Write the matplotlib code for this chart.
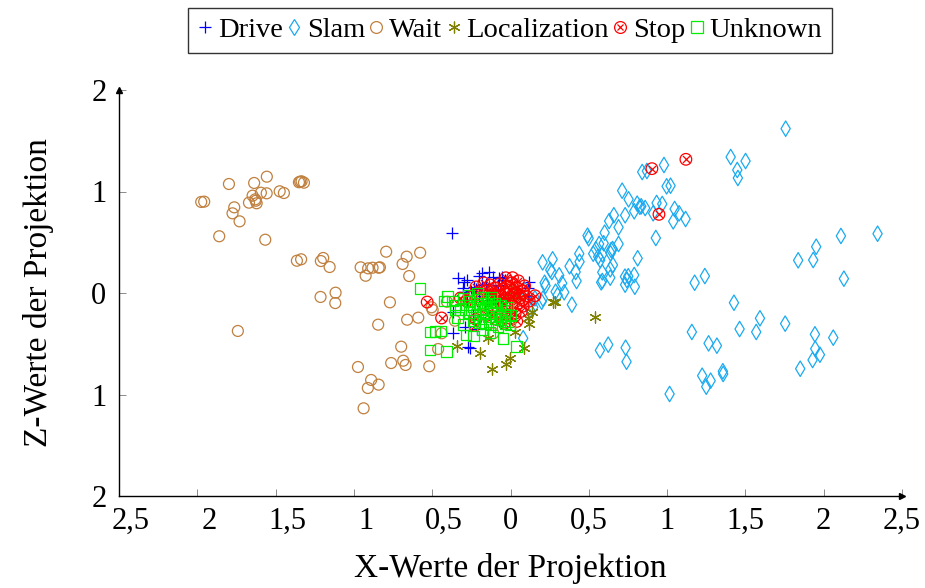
import matplotlib
matplotlib.use("Agg")
import matplotlib.pyplot as plt
from matplotlib.lines import Line2D
from matplotlib.legend_handler import HandlerTuple
from matplotlib.transforms import ScaledTranslation

# ---------------- data ----------------
drive_x = [-0.376, -0.338, -0.280, -0.185, -0.136, -0.200, -0.298, -0.306, -0.234, -0.221,
           -0.185, -0.157, -0.110, -0.072, -0.036, 0.116, -0.057, -0.302, -0.280, -0.366,
           -0.291, -0.370, -0.270, -0.216, -0.259, -0.25, -0.20, -0.15, -0.10, -0.08,
           -0.05, -0.12, 0.11, -0.24, -0.08, 0.11]
drive_y = [0.594, 0.151, 0.128, 0.194, 0.204, 0.170, 0.105, 0.046, 0.062, 0.039,
           0.079, 0.086, 0.161, 0.145, 0.128, 0.111, 0.161, 0.013, -0.069, -0.184,
           -0.332, -0.391, -0.529, -0.358, -0.545, 0.02, -0.03, 0.03, 0.02, 0.08,
           -0.05, -0.10, -0.03, -0.22, 0.07, 0.05]

slam_x = [1.757, 1.406, 1.501, 1.448, 1.452, 0.980, 0.841, 0.871, 0.997, 1.022,
          0.713, 0.754, 0.809, 0.826, 0.860, 0.835, 0.933, 0.969, 1.048, 1.077,
          1.118, 1.039, 0.911, 0.732, 0.790, 0.660, 0.630, 0.690, 0.928, 0.601,
          0.492, 0.499, 0.690, 0.566, 0.595, 0.545, 0.528, 0.560, 0.573, 0.586,
          0.643, 0.652, 0.639, 0.439, 0.441, 0.812, 0.269, 0.205, 0.377, 0.416,
          0.422, 0.654, 0.637, 0.586, 0.586, 0.579, 0.637, 0.254, 0.264, 0.311,
          0.330, 0.343, 0.288, 0.218, 0.224, 0.731, 0.752, 0.790, 0.732, 0.794,
          0.743, 0.392, 0.207, 1.176, 1.241, 1.427, 1.593, 1.463, 1.569, 1.754,
          1.158, 1.265, 1.318, 0.571, 0.624, 0.735, 0.741, 1.224, 1.250, 1.278,
          1.356, 1.358, 1.016, 1.837, 1.933, 1.952, 2.110, 2.344, 2.129, 1.944,
          2.061, 1.946, 1.976, 1.929, 1.850, 0.092, 0.156, 0.124, 0.081, 0.145,
          0.199, 0.301]
slam_y = [1.619, 1.340, 1.300, 1.212, 1.133, 1.261, 1.192, 1.202, 1.051, 1.057,
          1.008, 0.923, 0.880, 0.850, 0.837, 0.854, 0.887, 0.877, 0.828, 0.785,
          0.729, 0.706, 0.785, 0.766, 0.805, 0.766, 0.709, 0.647, 0.542, 0.594,
          0.565, 0.539, 0.483, 0.483, 0.490, 0.431, 0.387, 0.358, 0.325, 0.381,
          0.424, 0.433, 0.391, 0.387, 0.308, 0.342, 0.332, 0.302, 0.263, 0.207,
          0.118, 0.276, 0.233, 0.204, 0.118, 0.105, 0.151, 0.227, 0.207, 0.174,
          0.096, 0.007, 0.013, 0.101, 0.072, 0.161, 0.165, 0.177, 0.082, 0.062,
          0.128, -0.115, -0.056, 0.101, 0.167, -0.096, -0.249, -0.355, -0.384, -0.302,
          -0.384, -0.496, -0.519, -0.565, -0.509, -0.539, -0.677, -0.815, -0.923, -0.864,
          -0.771, -0.798, -0.995, 0.322, 0.325, 0.456, 0.562, 0.584, 0.141, -0.407,
          -0.440, -0.549, -0.608, -0.660, -0.746, 0.030, -0.052, -0.167, -0.446, -0.141,
          -0.086, -0.020]

wait_x = [-1.798, -1.637, -1.556, -1.343, -1.334, -1.319, -1.351, -1.975, -1.956, -1.764,
          -1.775, -1.730, -1.670, -1.647, -1.626, -1.621, -1.630, -1.594, -1.557, -1.474,
          -1.447, -1.860, -1.566, -1.364, -1.337, -1.211, -1.196, -1.155, -0.794, -0.957,
          -0.925, -0.909, -0.881, -0.842, -0.834, -1.213, -1.117, -1.119, -0.770, -0.845,
          -1.741, -0.762, -0.974, -0.890, -0.911, -0.842, -0.938, -0.663, -0.689, -0.577,
          -0.647, -0.660, -0.589, -0.497, -0.504, -0.698, -0.685, -0.670, -0.519, -0.462,
          -0.440, -0.406, -0.355, -0.110]
wait_y = [1.074, 1.084, 1.146, 1.097, 1.100, 1.087, 1.091, 0.897, 0.900, 0.844,
          0.785, 0.706, 0.890, 0.959, 0.909, 0.884, 0.923, 0.988, 0.982, 1.002,
          0.985, 0.559, 0.525, 0.318, 0.332, 0.315, 0.345, 0.256, 0.407, 0.253,
          0.170, 0.243, 0.249, 0.249, 0.253, -0.039, 0.003, -0.099, -0.092, -0.312,
          -0.374, -0.690, -0.729, -0.857, -0.936, -0.903, -1.136, 0.358, 0.286, 0.397,
          0.167, -0.263, -0.243, -0.167, -0.141, -0.529, -0.667, -0.709, -0.722, -0.552,
          -0.397, -0.086, -0.273, -0.397]

loc_x = [0.284, 0.541, -0.344, -0.195, -0.121, -0.031, -0.004, 0.086, 0.119, 0.273,
         -0.146, 0.034, 0.135, 0.060, -0.05, -0.12, 0.02, 0.112, 0.026, -0.004]
loc_y = [-0.089, -0.236, -0.522, -0.588, -0.752, -0.700, -0.637, -0.545, -0.308, -0.086,
         -0.440, -0.020, -0.184, -0.036, -0.05, 0.00, 0.05, -0.246, -0.381, -0.049]

stop_x = [0.903, 1.120, 0.948, -0.532, -0.440, -0.229, 0.013, 0.156,
          -0.03, 0.01, 0.05, -0.07, -0.10, -0.05, 0.00, 0.04, 0.08, 0.10,
          -0.15, -0.20, -0.12, -0.08, -0.03, 0.02, 0.06, -0.01, -0.06, -0.10,
          -0.14, -0.18, -0.04, 0.01, 0.05, 0.08, -0.08, -0.12, -0.02, 0.03,
          -0.06, -0.15, 0.00, -0.09, -0.22, 0.04, -0.04, -0.25, -0.22, -0.17,
          0.09, 0.12, 0.07, -0.28, -0.32, -0.02, -0.13, 0.03, -0.07]
stop_y = [1.225, 1.317, 0.775, -0.089, -0.246, -0.318, 0.151, -0.027,
          0.15, 0.10, 0.12, 0.09, 0.05, 0.04, 0.03, 0.05, 0.02, -0.03,
          0.02, 0.00, -0.02, -0.03, -0.01, -0.02, -0.05, -0.07, -0.08, -0.09,
          -0.06, -0.10, -0.12, -0.13, -0.10, -0.13, -0.15, -0.16, -0.18, -0.20,
          -0.21, -0.22, -0.25, -0.26, -0.26, -0.28, -0.30, -0.04, 0.06, 0.10,
          0.07, -0.08, -0.18, -0.08, -0.05, 0.06, 0.08, 0.00, -0.02]

unk_x = [-0.579, -0.425, -0.404, -0.515, -0.481, -0.446, -0.515, -0.408, -0.355, -0.285,
         -0.238, 0.039, -0.036, -0.004, -0.047,
         -0.30, -0.26, -0.22, -0.18, -0.14, -0.10, -0.06, -0.02, -0.28, -0.24,
         -0.20, -0.16, -0.12, -0.08, -0.04, 0.00, -0.26, -0.22, -0.18, -0.14,
         -0.10, -0.06, -0.02, -0.24, -0.20, -0.16, -0.12, -0.08, -0.32, -0.34,
         -0.18, -0.13, -0.30, -0.27, -0.15, -0.19, -0.11, -0.23, -0.07, -0.03,
         -0.37, -0.35, -0.21, -0.12]
unk_y = [0.046, -0.079, -0.036, -0.384, -0.377, -0.374, -0.562, -0.578, -0.167, -0.414,
         -0.424, -0.529, -0.299, -0.315, -0.446,
         -0.05, -0.08, -0.06, -0.04, -0.07, -0.10, -0.12, -0.14, -0.12, -0.14,
         -0.12, -0.15, -0.17, -0.19, -0.21, -0.22, -0.19, -0.21, -0.20, -0.23,
         -0.25, -0.26, -0.28, -0.27, -0.29, -0.30, -0.31, -0.33, -0.16, -0.24,
         -0.36, -0.39, -0.31, -0.02, -0.10, -0.16, -0.13, -0.24, -0.23, -0.17,
         -0.08, -0.12, 0.00, -0.04]

series_names = ["Drive", "Slam", "Wait", "Localization", "Stop", "Unknown"]
xtick_vals = [-2.5, -2, -1.5, -1, -0.5, 0, 0.5, 1, 1.5, 2, 2.5]
xtick_labels = ["2,5", "2", "1,5", "1", "0,5", "0", "0,5", "1", "1,5", "2", "2,5"]
ytick_vals = [-2, -1, 0, 1, 2]
ytick_labels = ["2", "1", "0", "1", "2"]

# ---------------- styling ----------------
FONT = ["Liberation Serif", "DejaVu Serif"]
plt.rcParams["font.family"] = FONT

c_drive = "#0000ff"
c_slam = "#1aaaf0"
c_wait = "#c0803f"
c_loc = "#808000"
c_stop = "#ff0000"
c_unk = "#00ee00"

fig = plt.figure(figsize=(9.25, 5.88), dpi=100)
ax = fig.add_axes([119/925, 1-496/588, 783/925, 406/588])

lw = 0.9
ax.scatter(drive_x, drive_y, marker="+", s=75, c=c_drive, linewidths=lw, zorder=3)
ax.scatter(slam_x, slam_y, marker="d", s=62, facecolors="none", edgecolors=c_slam, linewidths=lw, zorder=3)
ax.scatter(wait_x, wait_y, marker="o", s=62, facecolors="none", edgecolors=c_wait, linewidths=lw, zorder=3)
ax.scatter(loc_x, loc_y, marker=(6, 2, 0), s=65, c=c_loc, linewidths=lw, zorder=3)
ax.scatter(stop_x, stop_y, marker="o", s=70, facecolors="none", edgecolors=c_stop, linewidths=lw, zorder=3)
ax.scatter(stop_x, stop_y, marker="x", s=26, c=c_stop, linewidths=lw, zorder=3)
ax.scatter(unk_x, unk_y, marker="s", s=58, facecolors="none", edgecolors=c_unk, linewidths=lw, zorder=3)

ax.set_xlim(-2.5, 2.5)
ax.set_ylim(-2, 2)
for side in ("top", "right"):
    ax.spines[side].set_visible(False)
for side in ("left", "bottom"):
    ax.spines[side].set_linewidth(1.0)
    ax.spines[side].set_color("black")

ax.plot(1, 0, marker=">", color="black", markersize=5, transform=ax.transAxes, clip_on=False, zorder=5)
ax.plot(0, 1, marker="^", color="black", markersize=5, transform=ax.transAxes, clip_on=False, zorder=5)

ax.set_xticks(xtick_vals)
ax.set_xticklabels(xtick_labels)
ax.set_yticks(ytick_vals)
ax.set_yticklabels(ytick_labels)
ax.tick_params(axis="both", direction="in", length=5, width=0.6, color="#777777",
               labelsize=22)
ax.tick_params(axis="x", pad=8)
ax.tick_params(axis="y", pad=9)

# negative labels are drawn with an invisible minus sign in the reference,
# which pushes the visible digits to the right of their tick
for lab, val in zip(ax.get_xticklabels(), xtick_vals):
    if val < 0:
        lab.set_transform(lab.get_transform() + ScaledTranslation(0.12, 0, fig.dpi_scale_trans))

ax.set_xlabel("X-Werte der Projektion", fontsize=24, labelpad=12)
ax.set_ylabel("Z-Werte der Projektion", fontsize=24, labelpad=27)

ms = 8.5
handles = [
    Line2D([], [], marker="+", color=c_drive, linestyle="none", markersize=ms, markeredgewidth=lw),
    Line2D([], [], marker="d", color=c_slam, markerfacecolor="none", linestyle="none", markersize=ms, markeredgewidth=lw),
    Line2D([], [], marker="o", color=c_wait, markerfacecolor="none", linestyle="none", markersize=ms, markeredgewidth=lw),
    Line2D([], [], marker=(6, 2, 0), color=c_loc, linestyle="none", markersize=ms, markeredgewidth=lw),
    (Line2D([], [], marker="o", color=c_stop, markerfacecolor="none", linestyle="none", markersize=ms, markeredgewidth=lw),
     Line2D([], [], marker="x", color=c_stop, linestyle="none", markersize=ms*0.55, markeredgewidth=lw)),
    Line2D([], [], marker="s", color=c_unk, markerfacecolor="none", linestyle="none", markersize=ms*0.95, markeredgewidth=lw),
]
leg = fig.legend(handles, series_names, loc="upper center", bbox_to_anchor=(510/925, 1-8/588),
                 ncol=6, frameon=True, fancybox=False, edgecolor="black", fontsize=20.5,
                 handlelength=0.5, handletextpad=0.2, columnspacing=0.15, borderpad=0.33,
                 borderaxespad=0.0,
                 handler_map={tuple: HandlerTuple(ndivide=1, pad=0)})
leg.get_frame().set_linewidth(1.0)

fig.savefig("out.png", dpi=100)
